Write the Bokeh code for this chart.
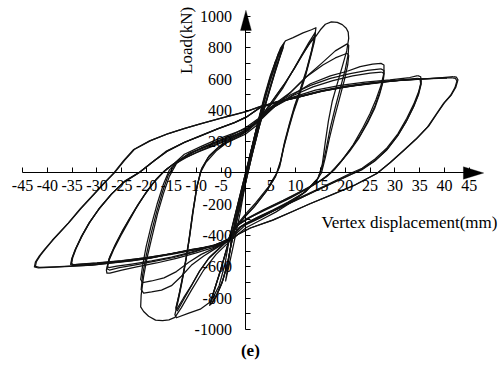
from bokeh.plotting import figure
from bokeh.models import Range1d, LinearAxis, FixedTicker, Label, PolyAnnotation
from bokeh.embed import file_html
from bokeh.resources import INLINE

# Load–displacement record, one list of (displacement mm, load kN) per cycle
elastic_1 = [(0, 0), (0.9, 120), (1.9, 250), (2.9, 380), (3.5, 450), (3.3, 420), (2.4, 300), (1.2, 140),
             (0.0, -20), (-1.1, -170), (-2.1, -300), (-2.8, -400), (-3.1, -460), (-2.9, -410), (-2.0, -280),
             (-0.9, -130), (0.2, 20)]
elastic_2 = [(0.2, 20), (1.4, 190), (2.6, 350), (3.8, 500), (4.9, 620), (5.7, 690), (5.9, 710), (5.2, 640),
             (3.9, 500), (2.5, 330), (1.0, 140), (-0.4, -60), (-1.8, -260), (-2.9, -430), (-3.5, -560),
             (-3.9, -650), (-4.1, -690), (-3.6, -620), (-2.5, -460), (-1.2, -260), (0.1, -30)]
elastic_3 = [(0.1, -30), (1.5, 170), (2.8, 340), (4.0, 490), (5.2, 620), (6.3, 730), (7.2, 800), (7.7, 830),
             (7.3, 790), (6.1, 680), (4.6, 520), (3.0, 340), (1.4, 140), (-0.2, -80), (-1.6, -270),
             (-2.8, -430), (-3.6, -560), (-4.6, -680), (-5.8, -770), (-6.8, -830), (-7.3, -845), (-6.8, -790),
             (-5.4, -650), (-3.8, -480), (-2.4, -300), (-1.0, -120), (0.3, 50)]
elastic_4 = [(0.3, 50), (1.8, 240), (3.1, 400), (4.3, 540), (5.5, 660), (6.5, 760), (7.3, 810), (7.6, 820),
             (7.1, 770), (5.9, 650), (4.4, 490), (2.8, 310), (1.2, 110), (-0.4, -110), (-1.8, -300),
             (-3.0, -460), (-3.7, -580), (-4.8, -700), (-6.0, -790), (-6.9, -835), (-7.2, -830), (-6.6, -770),
             (-5.1, -620), (-3.6, -450), (-2.2, -270), (-0.8, -90), (0.5, 70)]
elastic_5 = [(0.5, 70), (1.9, 250), (3.2, 410), (4.5, 555), (5.7, 670), (6.7, 765), (7.4, 805), (7.5, 800),
             (6.9, 745), (5.7, 625), (4.2, 465), (2.6, 285), (1.0, 85), (-0.6, -130), (-2.0, -320),
             (-3.1, -475), (-3.8, -595), (-4.9, -710), (-6.1, -795), (-6.8, -825), (-7.0, -815), (-6.3, -745),
             (-4.8, -590), (-3.3, -420), (-1.9, -240), (-0.5, -60), (0.6, 80)]

amp14_a = [(0.6, 80), (2.0, 270), (3.4, 440), (4.7, 590), (5.9, 710), (7.0, 800), (8.0, 845), (9.5, 865),
           (11.5, 895), (13.2, 915), (14.1, 928), (13.9, 880), (13.2, 780), (12.2, 660), (11.0, 540),
           (9.8, 430), (8.8, 320), (7.8, 200), (7.0, 80), (6.2, 0), (4.5, -90), (2.0, -190), (0.0, -260),
           (-1.8, -330), (-3.4, -430), (-4.2, -580), (-5.4, -720), (-7.0, -820), (-9.2, -870), (-11.5, -895),
           (-14.0, -925), (-14.3, -905), (-13.6, -810), (-12.9, -700), (-12.2, -580), (-11.5, -440),
           (-10.8, -270), (-10.0, -110), (-9.2, 0), (-8.0, 70), (-6.0, 140), (-4.0, 190), (-2.0, 220),
           (0.0, 250), (2.0, 300), (3.8, 380), (5.6, 460), (7.4, 540), (9.2, 640), (11.0, 740), (12.6, 830),
           (14.0, 900)]
amp14_b = [(14.0, 900), (13.8, 860), (13.1, 760), (12.1, 640), (10.9, 520), (9.7, 410), (8.7, 300), (7.7, 180),
           (6.9, 60), (6.0, -20), (4.3, -110), (1.8, -210), (0.0, -270), (-1.8, -340), (-3.4, -420),
           (-5.4, -480), (-7.4, -540), (-9.2, -620), (-10.8, -710), (-12.4, -800), (-13.8, -880), (-14.1, -870),
           (-13.5, -780), (-12.8, -670), (-12.1, -550), (-11.4, -410), (-10.7, -250), (-9.9, -90), (-9.0, 20),
           (-7.6, 100), (-5.6, 160), (-3.6, 200), (-1.6, 230), (0.4, 270), (2.4, 330), (4.2, 410), (6.0, 490),
           (7.8, 570), (9.6, 660), (11.3, 750), (12.8, 830), (14.0, 880)]
amp14_c = [(14.0, 880), (13.8, 840), (13.0, 740), (12.0, 620), (10.8, 500), (9.6, 390), (8.6, 280), (7.6, 160),
           (6.8, 40), (5.8, -30), (4.0, -120), (1.6, -220), (-0.2, -280), (-2.0, -350), (-3.6, -430),
           (-5.6, -490), (-7.6, -550), (-9.4, -630), (-11.0, -720), (-12.6, -800), (-13.9, -870), (-14.1, -860),
           (-13.4, -770), (-12.7, -660), (-12.0, -540), (-11.3, -400), (-10.6, -240), (-9.8, -80), (-8.9, 30),
           (-7.4, 110), (-5.4, 170), (-3.4, 210), (-1.4, 240), (0.6, 280), (2.6, 340), (4.4, 420), (6.2, 500),
           (8.0, 580), (9.8, 670), (11.4, 760), (12.9, 830), (14.0, 870)]

amp20_a = [(14.0, 870), (15.0, 915), (16.0, 950), (17.2, 965), (18.4, 962), (19.4, 948), (20.2, 925),
           (20.6, 900), (20.7, 860), (20.3, 780), (19.4, 680), (18.3, 560), (17.4, 460), (16.6, 330),
           (16.0, 200), (15.4, 60), (14.6, -30), (12.0, -120), (9.0, -190), (6.0, -250), (3.0, -300),
           (0.0, -350), (-3.4, -440), (-6.0, -520), (-8.5, -620), (-11.0, -750), (-13.0, -860), (-14.3, -922),
           (-15.5, -938), (-16.8, -944), (-18.2, -940), (-19.6, -915), (-20.6, -885), (-21.2, -855),
           (-21.1, -780), (-20.6, -660), (-19.9, -540), (-19.0, -420), (-17.8, -260), (-16.6, -130),
           (-15.4, -20), (-14.0, 60), (-12.0, 110), (-9.0, 160), (-6.0, 200), (-3.0, 240), (0.0, 290),
           (2.6, 350), (5.0, 420), (7.0, 470), (9.0, 515), (12.0, 610), (15.4, 705), (18.0, 780), (20.4, 825)]
amp20_b = [(20.4, 825), (20.7, 815), (20.6, 760), (20.0, 660), (19.0, 540), (18.0, 420), (17.0, 290),
           (16.2, 160), (15.4, 40), (14.4, -40), (12.0, -120), (9.0, -180), (6.0, -235), (3.0, -285),
           (0.0, -330), (-3.4, -430), (-6.0, -480), (-8.5, -530), (-11.0, -590), (-13.0, -660), (-15.0, -720),
           (-17.0, -748), (-19.0, -760), (-20.6, -768), (-21.1, -745), (-20.8, -650), (-20.1, -530),
           (-19.2, -400), (-18.0, -250), (-16.8, -120), (-15.6, -10), (-14.2, 60), (-12.0, 100), (-9.0, 145),
           (-6.0, 185), (-3.0, 225), (0.0, 275), (2.8, 340), (5.6, 425), (8.5, 500), (12.2, 615), (15.5, 690),
           (18.0, 735), (20.4, 765)]
amp20_c = [(20.4, 765), (20.7, 750), (20.5, 690), (19.8, 590), (18.8, 470), (17.8, 350), (16.8, 220),
           (16.0, 100), (15.2, 0), (14.0, -60), (11.5, -130), (8.5, -185), (5.5, -235), (2.5, -280),
           (-0.5, -330), (-3.4, -425), (-6.0, -475), (-9.0, -520), (-11.5, -570), (-14.0, -630), (-16.5, -670),
           (-19.0, -690), (-20.8, -700), (-21.2, -680), (-20.8, -590), (-20.1, -470), (-19.1, -340),
           (-17.9, -200), (-16.6, -70), (-15.4, 20), (-13.5, 80), (-10.0, 130), (-6.0, 180), (-3.0, 220),
           (0.0, 265), (3.0, 340), (5.6, 420), (9.0, 490), (13.0, 570), (17.0, 620), (20.4, 650)]

amp27_a = [(20.4, 650), (23.0, 680), (25.5, 695), (27.2, 700), (27.8, 690), (27.8, 640), (27.2, 560),
           (26.2, 470), (25.0, 380), (23.4, 280), (21.6, 180), (19.6, 90), (17.8, 20), (16.4, -20),
           (13.0, -90), (9.0, -160), (5.0, -220), (1.0, -280), (-1.5, -330), (-3.4, -420), (-6.0, -470),
           (-10.0, -510), (-14.0, -545), (-18.0, -575), (-22.0, -600), (-25.0, -620), (-27.4, -640),
           (-28.0, -640), (-28.1, -620), (-27.6, -560), (-26.5, -480), (-25.2, -400), (-23.8, -320),
           (-22.2, -230), (-20.6, -150), (-18.8, -70), (-16.8, 0), (-14.5, 60), (-12.4, 120), (-9.0, 170),
           (-5.8, 215), (-2.8, 250), (0.2, 285), (2.8, 350), (5.5, 430), (9.0, 500), (13.0, 560), (17.0, 605),
           (21.0, 635), (24.5, 655), (27.2, 665)]
amp27_b = [(27.2, 665), (27.8, 655), (27.7, 600), (27.0, 520), (26.0, 430), (24.7, 340), (23.0, 240),
           (21.0, 150), (19.0, 70), (17.2, 5), (15.5, -40), (12.0, -105), (8.0, -170), (4.0, -230),
           (0.5, -290), (-2.0, -340), (-3.5, -420), (-6.5, -465), (-10.5, -505), (-14.5, -540), (-18.5, -565),
           (-22.5, -588), (-25.5, -605), (-27.5, -620), (-28.0, -612), (-27.6, -550), (-26.4, -465),
           (-25.0, -380), (-23.5, -295), (-21.8, -205), (-20.0, -120), (-18.2, -45), (-16.4, 15), (-14.0, 70),
           (-11.5, 125), (-8.0, 170), (-4.8, 210), (-1.8, 245), (0.8, 285), (3.2, 355), (6.0, 430),
           (9.5, 495), (13.5, 550), (17.5, 590), (21.5, 620), (25.0, 638), (27.3, 645)]
amp27_c = [(27.3, 645), (27.8, 635), (27.6, 580), (26.9, 500), (25.9, 410), (24.5, 320), (22.8, 225),
           (20.8, 135), (18.7, 55), (16.8, -5), (15.0, -50), (11.5, -110), (7.5, -175), (3.5, -235),
           (0.0, -295), (-2.4, -350), (-3.6, -425), (-7.0, -468), (-11.0, -505), (-15.0, -538), (-19.0, -562),
           (-23.0, -582), (-26.0, -595), (-27.6, -605), (-27.9, -595), (-27.4, -535), (-26.2, -450),
           (-24.8, -365), (-23.2, -280), (-21.5, -190), (-19.7, -105), (-17.9, -35), (-16.0, 25), (-13.5, 80),
           (-10.5, 135), (-7.0, 180), (-3.6, 225), (-0.6, 265), (2.4, 330), (5.0, 410), (9.0, 480),
           (14.0, 530), (19.0, 560), (24.0, 580), (29.0, 595), (33.0, 610), (34.6, 622)]

amp35_a = [(34.6, 622), (35.2, 615), (35.3, 585), (34.8, 520), (33.8, 440), (32.4, 350), (30.6, 250),
           (28.4, 160), (26.0, 90), (23.4, 30), (21.2, 0), (18.0, -50), (14.0, -110), (10.0, -170),
           (6.0, -230), (2.0, -290), (-1.0, -340), (-3.4, -425), (-6.0, -460), (-10.0, -490), (-15.0, -520),
           (-20.0, -545), (-25.0, -565), (-30.0, -580), (-33.5, -588), (-34.8, -592), (-35.3, -585),
           (-35.1, -550), (-34.4, -490), (-33.2, -410), (-31.6, -320), (-29.6, -230), (-27.2, -140),
           (-24.6, -60), (-21.6, 0), (-18.8, 70), (-16.0, 140), (-12.5, 195), (-9.2, 235), (-5.8, 280),
           (-2.4, 320), (0.0, 355), (2.8, 415), (6.0, 450), (10.0, 480), (15.0, 520), (20.0, 550),
           (25.0, 570), (29.0, 585), (32.5, 598), (34.6, 605)]
amp35_b = [(34.6, 605), (35.2, 600), (35.3, 570), (34.8, 505), (33.8, 425), (32.4, 335), (30.6, 240),
           (28.4, 150), (26.0, 80), (23.4, 25), (21.4, -5), (18.0, -55), (14.0, -115), (10.0, -175),
           (6.0, -235), (2.0, -295), (-1.2, -345), (-3.4, -425), (-6.0, -458), (-10.0, -487), (-15.0, -515),
           (-20.0, -540), (-25.0, -560), (-30.0, -575), (-33.5, -583), (-34.8, -587), (-35.2, -580),
           (-35.0, -545), (-34.3, -485), (-33.1, -405), (-31.5, -315), (-29.5, -225), (-27.1, -135),
           (-24.5, -55), (-21.4, 5), (-18.6, 75), (-15.8, 140), (-12.4, 195), (-9.1, 238), (-5.7, 282),
           (-2.3, 322), (0.1, 357), (2.8, 418), (6.0, 452), (10.0, 482), (15.0, 522), (20.0, 552),
           (25.0, 572), (29.0, 586), (32.5, 596), (34.5, 600)]
amp35_c = [(34.5, 600), (35.1, 596), (35.2, 565), (34.7, 500), (33.7, 420), (32.3, 330), (30.5, 235),
           (28.3, 145), (25.9, 75), (23.3, 20), (21.3, -8), (17.8, -58), (13.8, -118), (9.8, -178),
           (5.8, -238), (1.8, -298), (-1.3, -348), (-3.4, -428), (-6.0, -460), (-10.0, -488), (-15.0, -516),
           (-20.0, -541), (-25.0, -561), (-30.0, -576), (-33.5, -584), (-34.7, -586), (-35.1, -578),
           (-34.9, -542), (-34.2, -482), (-33.0, -402), (-31.4, -312), (-29.4, -222), (-27.0, -132),
           (-24.4, -52), (-21.3, 8), (-18.5, 78), (-15.7, 142), (-12.3, 197), (-9.0, 240), (-5.6, 284),
           (-2.2, 324), (0.2, 360), (2.9, 420), (6.0, 455), (10.0, 485), (15.0, 525), (20.0, 555),
           (25.0, 575), (30.0, 590), (35.0, 600), (39.0, 608), (41.8, 615)]

amp42_a = [(41.8, 615), (42.4, 612), (42.7, 595), (42.3, 550), (41.4, 500), (40.0, 450), (38.5, 380),
           (36.8, 300), (34.4, 220), (32.0, 150), (29.2, 70), (26.5, 0), (22.0, -75), (17.6, -134),
           (13.0, -195), (9.6, -243), (5.5, -300), (1.0, -350), (-1.5, -390), (-3.4, -435), (-6.0, -465),
           (-10.6, -486), (-15.0, -515), (-19.2, -543), (-23.0, -560), (-27.2, -575), (-31.0, -588),
           (-34.6, -595), (-38.5, -602), (-41.8, -607), (-42.6, -600), (-42.4, -570), (-41.6, -530),
           (-40.6, -490), (-39.0, -430), (-37.4, -375), (-35.8, -320), (-33.4, -230), (-30.6, -134),
           (-28.6, -65), (-26.6, 0), (-24.6, 80), (-22.6, 150), (-19.4, 205), (-15.8, 250), (-12.5, 283),
           (-9.2, 314), (-5.0, 350), (-2.0, 375), (0.0, 392), (3.0, 425), (6.0, 450), (10.0, 480),
           (15.6, 525), (22.2, 560), (28.8, 587), (35.4, 600), (39.5, 607), (41.6, 608)]
amp42_b = [(41.6, 608), (42.2, 604), (42.5, 588), (42.1, 545), (41.2, 495), (39.8, 445), (38.3, 375),
           (36.6, 295), (34.2, 215), (31.8, 145), (29.0, 65), (26.3, -5), (21.8, -80), (17.4, -138),
           (12.8, -198), (9.4, -246), (5.3, -303), (0.8, -353), (-1.6, -392), (-3.4, -437), (-6.0, -466),
           (-10.6, -488), (-15.0, -516), (-19.2, -544), (-23.0, -561), (-27.2, -576), (-31.0, -588),
           (-34.6, -594), (-38.5, -600), (-41.6, -603), (-42.4, -596), (-42.2, -566), (-41.4, -526),
           (-40.4, -486), (-38.8, -426), (-37.2, -371), (-35.6, -316), (-33.2, -226), (-30.4, -130),
           (-28.4, -61), (-26.4, 4), (-24.4, 82), (-22.4, 152), (-19.2, 207), (-15.6, 252), (-12.3, 285),
           (-9.0, 316), (-4.8, 352), (-1.8, 377), (0.2, 394), (3.1, 427), (6.1, 452), (10.1, 482),
           (15.7, 527), (22.3, 562), (28.9, 588), (35.5, 601), (40.5, 606)]

cycles = [elastic_1, elastic_2, elastic_3, elastic_4, elastic_5,
          amp14_a, amp14_b, amp14_c, amp20_a, amp20_b, amp20_c,
          amp27_a, amp27_b, amp27_c, amp35_a, amp35_b, amp35_c, amp42_a, amp42_b]

x_ticks = [-45, -40, -35, -30, -25, -20, -15, -10, -5, 0, 5, 10, 15, 20, 25, 30, 35, 40, 45]
y_ticks = [-1000, -800, -600, -400, -200, 0, 200, 400, 600, 800, 1000]
y_minor = [-900, -700, -500, -300, -100, 100, 300, 500, 700, 900]

FONT = "Liberation Serif"

p = figure(width=499, height=378,
           x_range=Range1d(-49.43, 51.07), y_range=Range1d(-1313, 1102),
           x_axis_type=None, y_axis_type=None,
           output_backend="svg", toolbar_location=None, min_border=0)
p.outline_line_color = None
p.background_fill_color = "white"
p.border_fill_color = "white"

for cyc in cycles:
    p.line([pt[0] for pt in cyc], [pt[1] for pt in cyc],
           line_color="#111111", line_width=1.25, line_join="round")

# axes crossing at the origin
xaxis = LinearAxis(fixed_location=0, ticker=FixedTicker(ticks=x_ticks), bounds=(-45, 45))
yaxis = LinearAxis(fixed_location=0, ticker=FixedTicker(ticks=y_ticks, minor_ticks=y_minor),
                   bounds=(-1000, 1000))
for ax in (xaxis, yaxis):
    ax.axis_line_color = "black"
    ax.axis_line_width = 1
    ax.major_tick_line_color = "black"
    ax.minor_tick_line_color = "black"
    ax.major_tick_in = 5
    ax.major_tick_out = 0
    ax.minor_tick_in = 5
    ax.minor_tick_out = 0
    ax.major_label_text_font = FONT
    ax.major_label_text_font_size = "16px"
    ax.major_label_text_color = "black"
# plain hyphen-minus tick labels; the x axis leaves its zero to the y axis
xaxis.major_label_overrides = {t: ("" if t == 0 else str(t)) for t in x_ticks}
yaxis.major_label_overrides = {t: str(t) for t in y_ticks}
xaxis.major_label_standoff = 7
yaxis.major_label_standoff = 14
p.add_layout(xaxis, "below")
p.add_layout(yaxis, "left")

# arrow heads at the positive ends of both axes
p.add_layout(PolyAnnotation(xs=[43.8, 47.9, 43.8], ys=[-40, 0, 40],
                            fill_color="black", fill_alpha=1, line_color="black"))
p.add_layout(PolyAnnotation(xs=[-1.1, 0, 1.1], ys=[911, 1040, 911],
                            fill_color="black", fill_alpha=1, line_color="black"))

p.add_layout(Label(x=15.2, y=-316, text="Vertex displacement(mm)", text_font=FONT,
                   text_font_size="17px", text_color="black", text_baseline="middle"))
p.add_layout(Label(x=-12.0, y=847, text="Load(kN)", text_font=FONT, angle=1.5708,
                   text_font_size="17px", text_color="black",
                   text_align="center", text_baseline="middle"))
p.add_layout(Label(x=0.9, y=-1134, text="(e)", text_font=FONT, text_font_style="bold",
                   text_font_size="17px", text_color="black",
                   text_align="center", text_baseline="middle"))

open("out.html", "w").write(file_html(p, INLINE))
